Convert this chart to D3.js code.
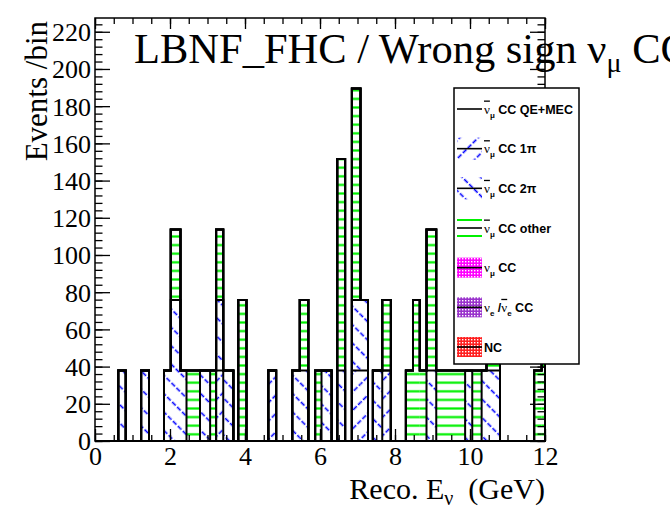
<!DOCTYPE html>
<html><head><meta charset="utf-8">
<script src="https://cdn.jsdelivr.net/npm/d3@7"></script>
<style>body{margin:0;background:#fff} svg{display:block}</style>
</head><body><svg id="c" width="670" height="511"></svg>
<script>
// ---------------- data ----------------
const binEdges = [0, 0.62, 0.82, 1.23, 1.44, 1.84, 2.02, 2.28, 2.44, 2.80, 3.07, 3.23, 3.42, 3.69, 3.82, 4.04,
  4.62, 4.83, 5.26, 5.46, 5.69, 5.87, 6.04, 6.31, 6.46, 6.67, 6.85, 7.08, 7.28, 7.41, 7.66, 7.89,
  8.29, 8.48, 8.66, 8.84, 9.10, 9.87, 10.06, 10.31, 10.44, 10.80, 11.71, 11.91, 12.0];
//                 0  1    2  3    4  5    6    7    8  9    10 11   12   13 14   15 16   17 18   19   20 21   22   23 24    25 26    27   28 29   30   31 32   33   34   35   36   37   38   39   40   41 42   43
const ccQEMEC  = [0, 0,   0, 0,   0, 0,   0,   0,   0, 0,   0, 0,   0,   0, 0,   0, 0,   0, 0,   0,   0, 0,   0,   0, 0,    0, 0,    0,   0, 0,   0,   0, 0,   0,   0,   0,   0,   0,   0,   0,   0,   0, 0,   0];
const cc1pi    = [0, 0,   0, 0,   0, 0,   0,   0,   0, 0,   0, 37.9,0,   0, 0,   0, 37.9,0, 0,   0,   0, 0,   0,   0, 0,    0, 37.9, 37.9,0, 0,   37.9,0, 0,   0,   0,   0,   0,   0,   0,   0,   0,   0, 0,   0];
const cc2pi    = [0, 37.9,0, 37.9,0, 37.9,75.8,37.9,0, 37.9,0, 37.9,37.9,0, 0,   0, 0,   0, 37.9,37.9,0, 0,   37.9,0, 37.9, 0, 37.9, 37.9,0, 37.9,0,   0, 0,   0,   0,   37.9,0,   37.9,0,   37.9,37.9,0, 0,   0];
const ccOther  = [0, 0,   0, 0,   0, 0,   37.9,0,   37.9,0, 37.9,37.9,0, 0, 75.8,0, 0,   0, 0,   37.9,0, 37.9,0,   0, 113.7,0, 113.7,0,   0, 0,   37.9,0, 37.9,75.8,37.9,75.8,37.9,0,   37.9,0,   37.9,0, 37.9,75.8];
const numuCC   = ccQEMEC.map(() => 0);
const nueCC    = ccQEMEC.map(() => 0);
const ncAll    = ccQEMEC.map(() => 0);

const xMajorTicks = [0, 2, 4, 6, 8, 10, 12];
const yMajorTicks = [0, 20, 40, 60, 80, 100, 120, 140, 160, 180, 200, 220];
const legendNames = ["QE+MEC", "1π", "2π", "other", "numu", "nue", "NC"];

// ---------------- drawing ----------------
const svg = d3.select("#c");
const W = 670, H = 511;
const L = 95, R = 545, T = 18, B = 441;
const x = d3.scaleLinear().domain([0, 12]).range([L, R]);
const y = d3.scaleLinear().domain([0, 227.4]).range([B, T]);

svg.append("rect").attr("width", W).attr("height", H).attr("fill", "#fff");

const defs = svg.append("defs");
const pg = defs.append("pattern").attr("id", "pOther").attr("patternUnits", "userSpaceOnUse")
  .attr("width", 10).attr("height", 8.6);
pg.append("line").attr("x1", 0).attr("x2", 10).attr("y1", 4.3).attr("y2", 4.3)
  .attr("stroke", "#00f000").attr("stroke-width", 2.2);
function hatch(id, ang) {
  const p = defs.append("pattern").attr("id", id).attr("patternUnits", "userSpaceOnUse")
    .attr("width", 13).attr("height", 14).attr("patternTransform", `rotate(${ang})`);
  p.append("line").attr("x1", 6.5).attr("x2", 6.5).attr("y1", 0).attr("y2", 14)
    .attr("stroke", "#0000ff").attr("stroke-width", 1.6).attr("stroke-dasharray", "5 2");
}
hatch("p1pi", 45);
hatch("p2pi", -45);
function dots(id, col) {
  const p = defs.append("pattern").attr("id", id).attr("patternUnits", "userSpaceOnUse")
    .attr("width", 3).attr("height", 3);
  p.append("rect").attr("width", 3).attr("height", 3).attr("fill", col);
  p.append("rect").attr("width", 1.4).attr("height", 1.4).attr("fill", "#fff");
}
dots("pNumu", "#ff00ff");
dots("pNue", "#9932cc");
dots("pNC", "#ff2020");

const keys = ["qe", "pi1", "pi2", "oth", "numu", "nue", "nc"];
const fills = { qe: "none", pi1: "url(#p1pi)", pi2: "url(#p2pi)", oth: "url(#pOther)",
  numu: "url(#pNumu)", nue: "url(#pNue)", nc: "url(#pNC)" };
const rows = ccQEMEC.map((_, i) => ({
  i, qe: ccQEMEC[i], pi1: cc1pi[i], pi2: cc2pi[i], oth: ccOther[i],
  numu: numuCC[i], nue: nueCC[i], nc: ncAll[i]
}));
const series = d3.stack().keys(keys)(rows);

const gBars = svg.append("g");
series.forEach(s => {
  gBars.selectAll(null).data(s.filter(d => d[1] > d[0])).enter().append("rect")
    .attr("x", d => x(binEdges[d.data.i]))
    .attr("width", d => x(binEdges[d.data.i + 1]) - x(binEdges[d.data.i]))
    .attr("y", d => y(d[1]))
    .attr("height", d => y(d[0]) - y(d[1]))
    .attr("fill", fills[s.key]);
});
// ROOT-like step outlines of the cumulative histograms
series.slice().reverse().forEach(s => {
  let p = `M${x(binEdges[0])},${y(0)}`;
  s.forEach((d, i) => { p += `V${y(d[1])}H${x(binEdges[i + 1])}`; });
  p += `V${y(0)}Z`;
  gBars.append("path").attr("d", p).attr("fill", "none").attr("stroke", "#000")
    .attr("stroke-width", 2).attr("stroke-linejoin", "miter");
});

// ---------------- frame & axes ----------------
const fontSerif = "'Liberation Serif', 'Times New Roman', serif";
function clean(g) { g.select(".domain").remove(); g.selectAll("line").attr("stroke", "#000").attr("stroke-width", 1.3); }

const yMinor = d3.range(0, 227, 4);
const xMinor = d3.range(0, 12.01, 0.5);
svg.append("g").attr("transform", `translate(${L},0)`)
  .call(d3.axisLeft(y).tickValues(yMinor).tickSize(-7.5).tickFormat("")).call(clean);
svg.append("g").attr("transform", `translate(${L},0)`)
  .call(d3.axisLeft(y).tickValues(yMajorTicks).tickSize(-15).tickPadding(4).tickFormat(d3.format("d")))
  .call(clean)
  .call(g => g.selectAll("text").attr("font-family", fontSerif).attr("font-size", 26).attr("fill", "#000").attr("dy", "0.34em"));
svg.append("g").attr("transform", `translate(${R},0)`)
  .call(d3.axisRight(y).tickValues(yMinor).tickSize(-7.5).tickFormat("")).call(clean);
svg.append("g").attr("transform", `translate(${R},0)`)
  .call(d3.axisRight(y).tickValues(yMajorTicks).tickSize(-15).tickFormat("")).call(clean);

svg.append("g").attr("transform", `translate(0,${B})`)
  .call(d3.axisBottom(x).tickValues(xMinor).tickSize(-6).tickFormat("")).call(clean);
svg.append("g").attr("transform", `translate(0,${B})`)
  .call(d3.axisBottom(x).tickValues(xMajorTicks).tickSize(-12).tickPadding(6).tickFormat(d3.format("d")))
  .call(clean)
  .call(g => g.selectAll("text").attr("font-family", fontSerif).attr("font-size", 26).attr("fill", "#000"));
svg.append("g").attr("transform", `translate(0,${T})`)
  .call(d3.axisTop(x).tickValues(xMinor).tickSize(-6).tickFormat("")).call(clean);
svg.append("g").attr("transform", `translate(0,${T})`)
  .call(d3.axisTop(x).tickValues(xMajorTicks).tickSize(-11).tickFormat("")).call(clean);

svg.append("rect").attr("x", L).attr("y", T).attr("width", R - L).attr("height", B - T)
  .attr("fill", "none").attr("stroke", "#000").attr("stroke-width", 1.5);

// axis titles
svg.append("text").attr("transform", `translate(47,${T + 3}) rotate(-90)`)
  .attr("text-anchor", "end").attr("font-family", fontSerif).attr("font-size", 31).attr("fill", "#000")
  .text("Events /bin");
const xt = svg.append("text").attr("x", R).attr("y", 499).attr("text-anchor", "end")
  .attr("font-family", fontSerif).attr("font-size", 30).attr("fill", "#000");
xt.append("tspan").text("Reco. E");
xt.append("tspan").attr("font-size", 20).attr("dy", 6).text("ν");
xt.append("tspan").attr("dy", -6).text("\u00a0 (GeV)");

// ---------------- legend ----------------
const lg = svg.append("g");
const LX0 = 454, LX1 = 579, LY0 = 88, LY1 = 364;
lg.append("rect").attr("x", LX0).attr("y", LY0).attr("width", LX1 - LX0).attr("height", LY1 - LY0)
  .attr("fill", "#fff").attr("stroke", "#000").attr("stroke-width", 1.5);
const entryY = d3.scalePoint().domain(legendNames).range([109, 347]);
const legendFill = ["none", "url(#p1pi)", "url(#p2pi)", "other", "url(#pNumu)", "url(#pNue)", "url(#pNC)"];
const legendText = [
  [{ t: "ν", o: 1 }, { t: "μ", s: 1 }, { t: " CC QE+MEC" }],
  [{ t: "ν", o: 1 }, { t: "μ", s: 1 }, { t: " CC 1π" }],
  [{ t: "ν", o: 1 }, { t: "μ", s: 1 }, { t: " CC 2π" }],
  [{ t: "ν", o: 1 }, { t: "μ", s: 1 }, { t: " CC other" }],
  [{ t: "ν" }, { t: "μ", s: 1 }, { t: " CC" }],
  [{ t: "ν" }, { t: "e", s: 1 }, { t: " /" }, { t: "ν", o: 1 }, { t: "e", s: 1 }, { t: " CC" }],
  [{ t: "NC" }]
];
const clip = defs.append("clipPath").attr("id", "lgclip");
clip.append("rect").attr("x", LX0).attr("y", LY0).attr("width", LX1 - LX0 - 1).attr("height", LY1 - LY0);
const lgc = lg.append("g").attr("clip-path", "url(#lgclip)");
legendNames.forEach((n, k) => {
  const cy = entryY(n);
  const f = legendFill[k];
  if (f === "other") {
    [-8, 8].forEach(o => lgc.append("line").attr("x1", 457).attr("x2", 482).attr("y1", cy + o).attr("y2", cy + o)
      .attr("stroke", "#00f000").attr("stroke-width", 2));
  } else if (f !== "none") {
    const hh = k < 3 ? 11 : 10;
    lgc.append("rect").attr("x", 457).attr("y", cy - hh).attr("width", 25).attr("height", 2 * hh).attr("fill", f);
  }
  lgc.append("line").attr("x1", 457).attr("x2", 482).attr("y1", cy).attr("y2", cy)
    .attr("stroke", "#000").attr("stroke-width", 1.6);
  const t = lgc.append("text").attr("x", 484).attr("y", cy + 4.5)
    .attr("font-family", "'Liberation Sans', Arial, sans-serif").attr("font-size", 12.5)
    .attr("font-weight", "bold").attr("fill", "#000");
  let shifted = false;
  legendText[k].forEach(p => {
    const ts = t.append("tspan").text(p.t);
    if (p.s) { ts.attr("font-size", 8).attr("dy", 4); shifted = true; }
    else if (shifted) { ts.attr("dy", -4); shifted = false; }
    if (p.t === "ν") ts.attr("font-weight", "normal").attr("font-family", fontSerif).attr("font-size", 13);
    if (p.o) ts.style("text-decoration", "overline");
  });
});

// ---------------- title ----------------
const tt = svg.append("text").attr("x", 134).attr("y", 63).attr("font-family", fontSerif)
  .attr("font-size", 42.5).attr("fill", "#000");
tt.append("tspan").text("LBNF_FHC / Wrong sign ν");
tt.append("tspan").attr("font-size", 28).attr("dy", 9).text("μ");
tt.append("tspan").attr("dy", -9).text(" CC");
</script></body></html>
